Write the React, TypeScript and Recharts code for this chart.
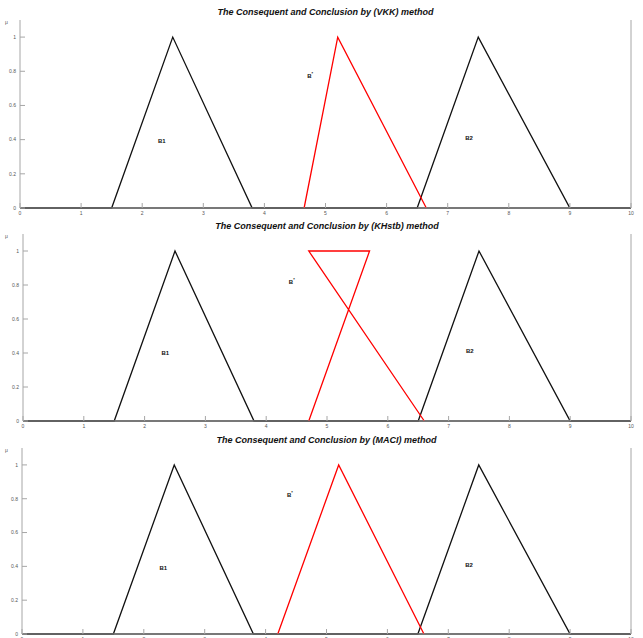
import React from 'react'
import { LineChart, Line, XAxis, YAxis, ReferenceDot } from 'recharts'

type Pt = { x: number; y: number }

// membership functions
const B1: Pt[] = [
  { x: 0, y: 0 }, { x: 1.5, y: 0 }, { x: 2.5, y: 1 }, { x: 3.8, y: 0 }, { x: 10, y: 0 },
]
const B2: Pt[] = [
  { x: 0, y: 0 }, { x: 6.5, y: 0 }, { x: 7.5, y: 1 }, { x: 9, y: 0 }, { x: 10, y: 0 },
]
const VKK: Pt[] = [{ x: 4.65, y: 0 }, { x: 5.2, y: 1 }, { x: 6.65, y: 0 }]
const KHSTB: Pt[] = [{ x: 4.7, y: 0 }, { x: 5.7, y: 1 }, { x: 4.7, y: 1 }, { x: 6.6, y: 0 }]
const MACI: Pt[] = [{ x: 4.2, y: 0 }, { x: 5.2, y: 1 }, { x: 6.6, y: 0 }]

const X_TICKS = [0, 1, 2, 3, 4, 5, 6, 7, 8, 9, 10]
const Y_TICKS = [0, 0.2, 0.4, 0.6, 0.8, 1]

type Note = { x: number; y: number; text: string; sup?: string }
const NOTES_VKK: Note[] = [
  { x: 2.32, y: 0.39, text: 'B1' }, { x: 7.35, y: 0.41, text: 'B2' }, { x: 4.75, y: 0.77, text: 'B', sup: '*' },
]
const NOTES_KHSTB: Note[] = [
  { x: 2.34, y: 0.4, text: 'B1' }, { x: 7.35, y: 0.41, text: 'B2' }, { x: 4.42, y: 0.82, text: 'B', sup: '*' },
]
const NOTES_MACI: Note[] = [
  { x: 2.32, y: 0.39, text: 'B1' }, { x: 7.34, y: 0.41, text: 'B2' }, { x: 4.4, y: 0.82, text: 'B', sup: '*' },
]

const FONT = '"Liberation Sans", Arial, sans-serif'
const BOX = '#a6a6a6'
const TICK = { fill: '#555', fontSize: 5, fontFamily: FONT }

function noteLabel(n: Note) {
  return (props: any) => {
    const vb = props.viewBox || {}
    const cx = (vb.x ?? 0) + (vb.width ?? 0) / 2
    const cy = (vb.y ?? 0) + (vb.height ?? 0) / 2
    return (
      <text x={cx} y={cy} dy={2} textAnchor="middle" fontSize={6} fontWeight="bold" fontFamily={FONT} fill="#111">
        {n.text}
        {n.sup && <tspan dy={-3} fontSize={4}>{n.sup}</tspan>}
      </text>
    )
  }
}

function Panel({ top, height, plotTop, left, axisH, title, red, notes }: {
  top: number; height: number; plotTop: number; left: number; axisH: number
  title: string; red: Pt[]; notes: Note[]
}) {
  return (
    <div style={{ position: 'absolute', left: 0, top, width: 643, height }}>
      <div style={{
        position: 'absolute', left, width: 631 - left, top: plotTop - 14, textAlign: 'center',
        fontFamily: FONT, fontSize: 9, fontWeight: 'bold', fontStyle: 'italic', color: '#111', lineHeight: '12px',
      }}>
        {title}
      </div>
      <div style={{ position: 'absolute', left: 5, top: plotTop - 1, fontFamily: FONT, fontSize: 5, color: '#555' }}>μ</div>
      <LineChart width={643} height={height} margin={{ top: plotTop, right: 0, bottom: 0, left: 0 }}>
        <XAxis xAxisId="b" type="number" dataKey="x" domain={[0, 10]} ticks={X_TICKS} height={axisH}
          tickSize={-5} tickMargin={8} tick={TICK} stroke={BOX} axisLine={{ stroke: BOX }} tickLine={{ stroke: BOX }} />
        <XAxis xAxisId="t" orientation="top" type="number" dataKey="x" domain={[0, 10]} ticks={X_TICKS} height={0}
          tickSize={-5} tick={false} axisLine={{ stroke: BOX }} tickLine={{ stroke: BOX }} />
        <YAxis yAxisId="l" type="number" domain={[0, 1.1]} ticks={Y_TICKS} width={left}
          tickSize={-5} tickMargin={9} tick={TICK} axisLine={{ stroke: BOX }} tickLine={{ stroke: BOX }} />
        <YAxis yAxisId="r" orientation="right" type="number" domain={[0, 1.1]} ticks={Y_TICKS} width={12}
          tickSize={-5} tick={false} axisLine={{ stroke: BOX }} tickLine={{ stroke: BOX }} />
        <Line xAxisId="b" yAxisId="l" data={B1} dataKey="y" type="linear" stroke="#111" strokeWidth={1.3} dot={false} isAnimationActive={false} />
        <Line xAxisId="b" yAxisId="l" data={B2} dataKey="y" type="linear" stroke="#111" strokeWidth={1.3} dot={false} isAnimationActive={false} />
        <Line xAxisId="b" yAxisId="l" data={red} dataKey="y" type="linear" stroke="#ff0000" strokeWidth={1.3} dot={false} isAnimationActive={false} />
        {notes.map((n, i) => (
          <ReferenceDot key={i} xAxisId="b" yAxisId="l" x={n.x} y={n.y} r={0} fill="none" stroke="none" label={noteLabel(n)} />
        ))}
      </LineChart>
    </div>
  )
}

export default function App() {
  return (
    <div style={{ position: 'absolute', left: 0, top: 0, width: 643, height: 638, overflow: 'hidden', background: '#fff' }}>
      <Panel top={0} height={218} plotTop={20} left={20} axisH={10}
        title="The Consequent and Conclusion by (VKK) method" red={VKK} notes={NOTES_VKK} />
      <Panel top={218} height={214} plotTop={16} left={23} axisH={11}
        title="The Consequent and Conclusion by (KHstb) method" red={KHSTB} notes={NOTES_KHSTB} />
      <Panel top={432} height={216} plotTop={16} left={22} axisH={14}
        title="The Consequent and Conclusion by (MACI) method" red={MACI} notes={NOTES_MACI} />
    </div>
  )
}
